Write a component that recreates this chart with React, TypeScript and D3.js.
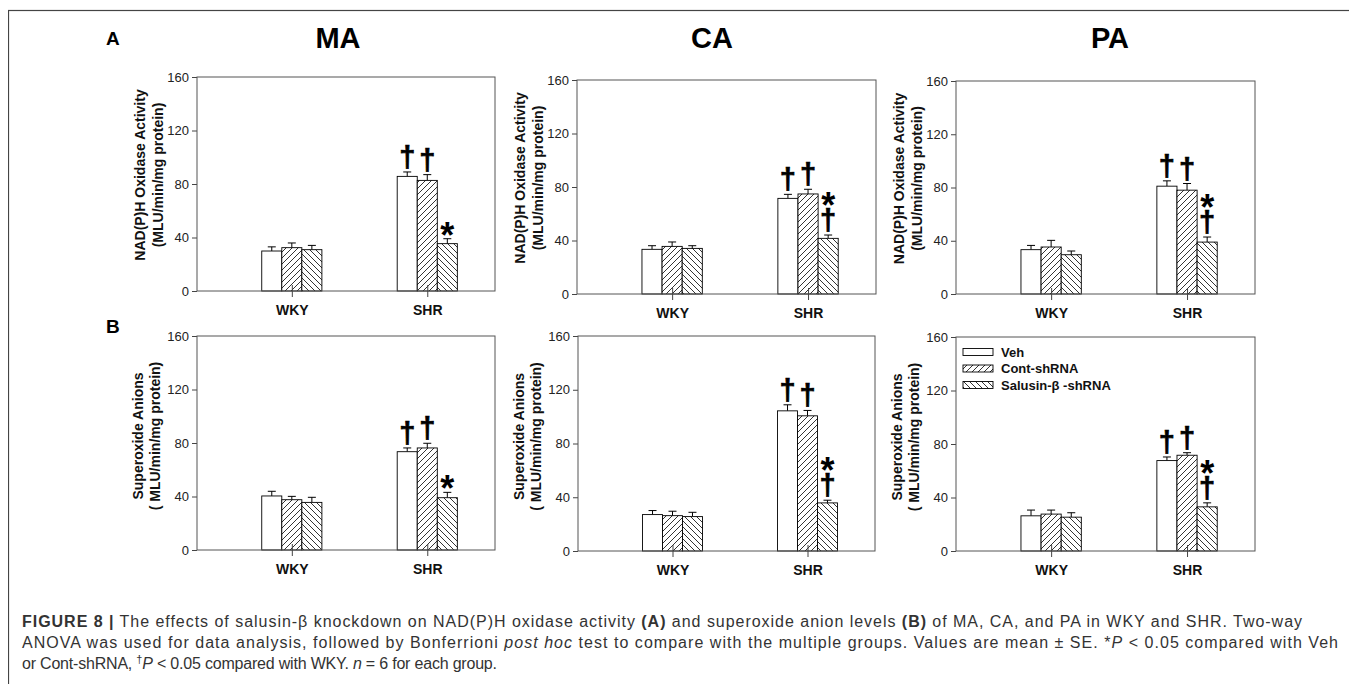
import React, { useEffect, useRef } from "react";
import * as d3 from "d3";

// ---- data ----
const vessels = ["MA", "CA", "PA"];
const groups = ["WKY", "SHR"];
const treatments = ["Veh", "Cont-shRNA", "Salusin-β -shRNA"];
const yTicks = [0, 40, 80, 120, 160];

// A: NAD(P)H oxidase activity  (rows: WKY, SHR; cols: Veh, Cont-shRNA, Salusin-β-shRNA)
const nadphMA = [[29.9, 32.4, 30.9], [85.7, 82.7, 35.4]];
const nadphMAse = [[3.1, 3.5, 3.2], [3.3, 4.3, 3.7]];
const nadphCA = [[33.4, 35.6, 34.1], [71.5, 74.8, 41.6]];
const nadphCAse = [[2.7, 3.3, 2.0], [3.0, 3.5, 2.5]];
const nadphPA = [[33.3, 35.3, 29.5], [81.0, 78.0, 39.0]];
const nadphPAse = [[3.2, 5.0, 2.8], [4.0, 5.0, 3.8]];

// B: superoxide anions
const superMA = [[40.4, 37.6, 35.6], [73.5, 76.3, 39.1]];
const superMAse = [[3.5, 2.5, 3.8], [2.8, 3.5, 4.0]];
const superCA = [[27.1, 26.3, 25.6], [104.3, 100.6, 35.8]];
const superCAse = [[3.0, 3.3, 3.2], [4.5, 4.0, 2.0]];
const superPA = [[26.3, 27.6, 25.3], [67.6, 71.6, 33.0]];
const superPAse = [[4.3, 3.0, 3.3], [2.7, 1.9, 3.0]];

// significance marks over bars (rows: WKY, SHR)
const marksMA = [["", "", ""], ["†", "†", "*"]];
const marksOther = [["", "", ""], ["†", "†", "*†"]];

const rowLetters = ["A", "B"];
const yLabelsA = ["NAD(P)H Oxidase Activity", "(MLU/min/mg protein)"];
const yLabelsB = ["Superoxide Anions", "( MLU/min/mg protein)"];

const rows = [
  [
    { mean: nadphMA, se: nadphMAse, marks: marksMA },
    { mean: nadphCA, se: nadphCAse, marks: marksOther },
    { mean: nadphPA, se: nadphPAse, marks: marksOther },
  ],
  [
    { mean: superMA, se: superMAse, marks: marksMA },
    { mean: superCA, se: superCAse, marks: marksOther },
    { mean: superPA, se: superPAse, marks: marksOther },
  ],
];

// ---- layout (page coordinates) ----
const boxes = [
  [
    { l: 197, r: 495, t: 77, b: 291 },
    { l: 577, r: 876, t: 80, b: 294 },
    { l: 956, r: 1255, t: 81, b: 294 },
  ],
  [
    { l: 197, r: 495, t: 336, b: 550 },
    { l: 578, r: 875, t: 336, b: 551 },
    { l: 956, r: 1255, t: 337, b: 551 },
  ],
];
const titleX = [338, 712, 1110];
const sans = "Arial, 'Liberation Sans', Helvetica, sans-serif";
const fills = ["#fff", "url(#hatchFwd)", "url(#hatchBack)"];
const bw = 0.148;

const App = () => {
  const ref = useRef<SVGSVGElement>(null);

  useEffect(() => {
    const svg = d3.select(ref.current);
    svg.selectAll("*").remove();

    const defs = svg.append("defs");
    const fwd = defs
      .append("pattern")
      .attr("id", "hatchFwd")
      .attr("patternUnits", "userSpaceOnUse")
      .attr("width", 6)
      .attr("height", 6);
    fwd.append("rect").attr("width", 6).attr("height", 6).attr("fill", "#fff");
    fwd
      .append("path")
      .attr("d", "M0,6 L6,0 M-1.5,1.5 L1.5,-1.5 M4.5,7.5 L7.5,4.5")
      .attr("stroke", "#000")
      .attr("stroke-width", 0.8);
    const back = defs
      .append("pattern")
      .attr("id", "hatchBack")
      .attr("patternUnits", "userSpaceOnUse")
      .attr("width", 6)
      .attr("height", 6);
    back.append("rect").attr("width", 6).attr("height", 6).attr("fill", "#fff");
    back
      .append("path")
      .attr("d", "M0,0 L6,6 M-1.5,4.5 L1.5,7.5 M4.5,-1.5 L7.5,1.5")
      .attr("stroke", "#000")
      .attr("stroke-width", 0.8);

    const root = svg
      .append("g")
      .attr("transform", "translate(-8,-8)")
      .attr("font-family", sans);

    // outer frame
    root
      .append("rect")
      .attr("x", 8.5)
      .attr("y", 10.5)
      .attr("width", 1346)
      .attr("height", 720)
      .attr("fill", "none")
      .attr("stroke", "#444")
      .attr("stroke-width", 1.2);

    // row letters + column titles
    rowLetters.forEach((letter, ri) => {
      root
        .append("text")
        .attr("x", 106)
        .attr("y", ri === 0 ? 45 : 333)
        .attr("font-size", 19)
        .attr("font-weight", "bold")
        .text(letter);
    });
    vessels.forEach((v, i) => {
      root
        .append("text")
        .attr("x", titleX[i])
        .attr("y", 48)
        .attr("text-anchor", "middle")
        .attr("font-size", 29)
        .attr("font-weight", "bold")
        .text(v);
    });

    rows.forEach((row, ri) => {
      row.forEach((panel, ci) => {
        const box = boxes[ri][ci];
        const g = root.append("g");
        const x = d3.scaleLinear().domain([0.3, 2.5]).range([box.l, box.r]);
        const y = d3.scaleLinear().domain([0, 160]).range([box.b, box.t]);

        // y axis
        const ya = g
          .append("g")
          .attr("transform", `translate(${box.l},0)`)
          .call(d3.axisLeft(y).tickValues(yTicks).tickSize(5).tickPadding(3));
        ya.select(".domain").remove();
        ya.selectAll("line").attr("stroke", "#444");
        ya.selectAll("text")
          .attr("font-size", 13)
          .attr("font-family", sans)
          .attr("fill", "#222");

        // bars
        panel.mean.forEach((vals, gi) => {
          vals.forEach((m, ti) => {
            const x0 = x(gi + 1 + (ti - 1.5) * bw);
            const x1 = x(gi + 1 + (ti - 0.5) * bw);
            const cx = (x0 + x1) / 2;
            const top = y(m + panel.se[gi][ti]);
            g.append("line")
              .attr("x1", cx)
              .attr("x2", cx)
              .attr("y1", y(m))
              .attr("y2", top)
              .attr("stroke", "#000");
            g.append("line")
              .attr("x1", cx - 4)
              .attr("x2", cx + 4)
              .attr("y1", top)
              .attr("y2", top)
              .attr("stroke", "#000");
            g.append("rect")
              .attr("x", x0)
              .attr("y", y(m))
              .attr("width", x1 - x0)
              .attr("height", y(0) - y(m))
              .attr("fill", fills[ti])
              .attr("stroke", "#000")
              .attr("stroke-width", 0.9);

            // significance marks
            const mk = panel.marks[gi][ti];
            let bottom = top - 2;
            if (mk.includes("†")) {
              g.append("text")
                .attr("x", cx)
                .attr("y", bottom - 3)
                .attr("text-anchor", "middle")
                .attr("font-size", 29)
                .attr("font-weight", "bold")
                .attr("stroke", "#000")
                .attr("stroke-width", 0.7)
                .text("†");
              bottom -= 26;
            }
            if (mk.includes("*")) {
              g.append("text")
                .attr("x", cx)
                .attr("y", bottom + 11)
                .attr("text-anchor", "middle")
                .attr("font-size", 36)
                .attr("font-weight", "bold")
                .text("*");
            }
          });
        });

        // frame
        g.append("rect")
          .attr("x", box.l)
          .attr("y", box.t)
          .attr("width", box.r - box.l)
          .attr("height", box.b - box.t)
          .attr("fill", "none")
          .attr("stroke", "#555");

        // x axis
        const xa = g
          .append("g")
          .attr("transform", `translate(0,${box.b})`)
          .call(
            d3
              .axisBottom(x)
              .tickValues([1, 2])
              .tickSize(6)
              .tickFormat((d) => groups[(d as number) - 1])
          );
        xa.select(".domain").remove();
        xa.selectAll("line").attr("y1", -6).attr("stroke", "#444");
        xa.selectAll("text")
          .attr("y", 24)
          .attr("dy", null)
          .attr("font-size", 14)
          .attr("font-weight", "bold")
          .attr("font-family", sans)
          .attr("fill", "#111");

        // y label
        const labels = ri === 0 ? yLabelsA : yLabelsB;
        const offs = ri === 0 ? [-57, -39] : [-59, -42];
        const cy = (box.t + box.b) / 2 - (ri === 0 ? 9 : 7);
        labels.forEach((lab, li) => {
          g.append("text")
            .attr("transform", `translate(${box.l + offs[li]},${cy}) rotate(-90)`)
            .attr("text-anchor", "middle")
            .attr("dominant-baseline", "central")
            .attr("font-size", 14)
            .attr("font-weight", "bold")
            .attr("fill", "#111")
            .text(lab);
        });

        // legend (PA, row B)
        if (ri === 1 && ci === 2) {
          treatments.forEach((t, ti) => {
            const ly = box.t + 15 + ti * 16.5;
            g.append("rect")
              .attr("x", box.l + 7)
              .attr("y", ly - 3.5)
              .attr("width", 30)
              .attr("height", 7)
              .attr("fill", fills[ti])
              .attr("stroke", "#000")
              .attr("stroke-width", 0.9);
            g.append("text")
              .attr("x", box.l + 45)
              .attr("y", ly)
              .attr("dominant-baseline", "central")
              .attr("font-size", 13)
              .attr("font-weight", "bold")
              .attr("fill", "#111")
              .text(t);
          });
        }
      });
    });

    // caption
    const cap = root.append("g").attr("fill", "#333").attr("font-size", 16);
    const line = (yy: number, len: number | null, parts: [string, string][]) => {
      const t = cap.append("text").attr("x", 22).attr("y", yy);
      if (len) t.attr("textLength", len).attr("lengthAdjust", "spacing");
      parts.forEach(([style, s]) => {
        const sp = t.append("tspan").text(s);
        if (style === "b") sp.attr("font-weight", "bold");
        if (style === "i") sp.attr("font-style", "italic");
        if (style === "sup") sp.attr("font-size", 11).attr("dy", -6);
        if (style === "down") sp.attr("font-style", "italic").attr("dy", 6);
      });
    };
    line(627, 1280, [
      ["b", "FIGURE 8 |"],
      ["", " The effects of salusin-β knockdown on NAD(P)H oxidase activity "],
      ["b", "(A)"],
      ["", " and superoxide anion levels "],
      ["b", "(B)"],
      ["", " of MA, CA, and PA in WKY and SHR. Two-way"],
    ]);
    line(648, 1316, [
      ["", "ANOVA was used for data analysis, followed by Bonferrioni "],
      ["i", "post hoc"],
      ["", " test to compare with the multiple groups. Values are mean ± SE. *"],
      ["i", "P"],
      ["", " < 0.05 compared with Veh"],
    ]);
    line(669, 475, [
      ["", "or Cont-shRNA, "],
      ["sup", "†"],
      ["down", "P"],
      ["", " < 0.05 compared with WKY. "],
      ["i", "n"],
      ["", " = 6 for each group."],
    ]);
  }, []);

  return (
    <svg
      ref={ref}
      width={1349}
      height={684}
      style={{ display: "block", marginBottom: -8 }}
    />
  );
};

export default App;
